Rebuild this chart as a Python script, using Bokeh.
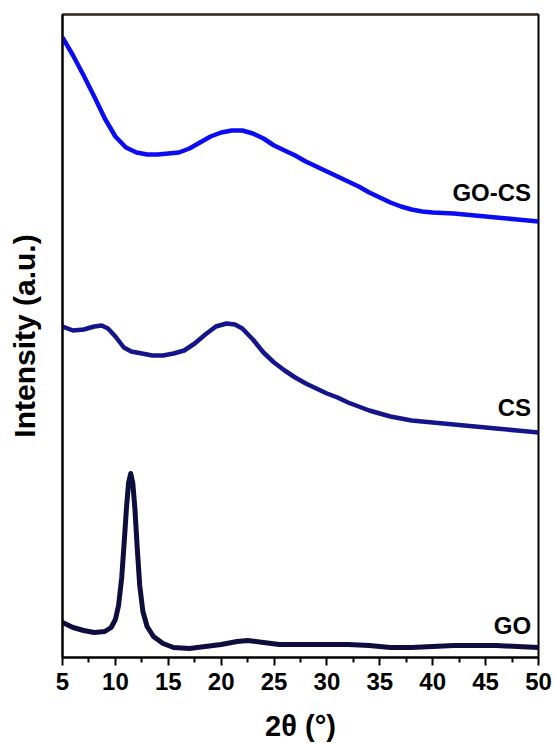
from bokeh.plotting import figure
from bokeh.models import FixedTicker, Label, LinearAxis, Range1d
from bokeh.embed import file_html
from bokeh.resources import INLINE

# ---- data (2θ in degrees, intensity in arbitrary units) ----
go_cs_theta = [5, 6, 7, 8, 9, 10, 11, 12, 13, 14, 15, 16, 17, 18, 19, 20, 21, 22, 23, 24,
               25, 26, 27, 28, 29, 30, 31, 32, 33, 34, 35, 36, 37, 38, 39, 40, 42, 44, 46, 48, 50]
go_cs_int = [620, 602, 582, 561, 539, 521, 510, 505, 503, 503, 504, 505, 509, 515, 521, 525, 527, 527,
             524, 519, 512, 507, 502, 496, 491, 486, 481, 476, 471, 465, 460, 455, 451, 448, 446, 445,
             444, 442, 440, 438, 436]

cs_theta = [5, 6, 7, 8, 8.7, 9.3, 10, 10.8, 11.5, 12.5, 13.5, 14.5, 15.5, 16.5, 17.5, 18.5, 19.5,
            20.5, 21.3, 22, 23, 24, 25, 26, 27, 28, 29, 30, 31, 32, 33, 34, 35, 36, 37, 38, 39, 40,
            42, 44, 46, 48, 50]
cs_int = [331, 327, 328, 331, 332, 329, 321, 310, 306, 304, 302, 302, 304, 307, 314, 323, 331,
          334, 333, 329, 318, 305, 295, 287, 280, 274, 269, 264, 260, 255, 251, 247, 244, 241, 239,
          237, 236, 235, 233, 231, 229, 227, 225]

go_theta = [5, 6, 7, 8, 9, 9.6, 10.0, 10.3, 10.6, 10.85, 11.05, 11.25, 11.45, 11.65, 11.85, 12.05,
            12.3, 12.6, 13.0, 13.6, 14.5, 15.5, 17, 18.5, 20, 21.5, 22.5, 24, 25.5, 27.5, 30, 32,
            34, 36, 38, 40, 42, 44, 46, 48, 50]
go_int = [35, 30, 27, 25, 26, 30, 38, 52, 80, 118, 150, 175, 184, 174, 148, 112,
          72, 46, 31, 21, 14, 10, 9, 11, 13, 16, 17, 15, 13, 13, 13, 13,
          12, 10, 10, 11, 12, 12, 12, 11, 10]

series_names = ["GO-CS", "CS", "GO"]
x_ticks = [5, 10, 15, 20, 25, 30, 35, 40, 45, 50]

FONT = "Liberation Sans"

p = figure(width=555, height=744, output_backend="svg", toolbar_location=None,
           x_range=Range1d(5, 50), y_range=Range1d(0, 643),
           min_border_left=62, min_border_right=17, min_border_top=14, min_border_bottom=87)
p.background_fill_color = "white"
p.border_fill_color = "white"
p.grid.visible = False
p.outline_line_color = "black"
p.outline_line_width = 2

p.line(go_cs_theta, go_cs_int, line_color="#0c0cf2", line_width=4.5, line_join="round")
p.line(cs_theta, cs_int, line_color="#15158a", line_width=4.5, line_join="round")
p.line(go_theta, go_int, line_color="#0e0e3e", line_width=5, line_join="round")

# x axis
xa = p.xaxis[0]
xa.ticker = FixedTicker(ticks=x_ticks, minor_ticks=[7.5 + 5 * i for i in range(9)])
xa.axis_label = "2θ (°)"
xa.axis_label_text_font = FONT
xa.axis_label_text_font_style = "bold"
xa.axis_label_text_font_size = "29px"
xa.axis_label_text_color = "black"
xa.axis_label_standoff = 17
xa.major_label_text_font = FONT
xa.major_label_text_font_style = "bold"
xa.major_label_text_font_size = "24px"
xa.major_label_text_color = "black"
xa.major_label_standoff = 7
xa.axis_line_width = 2
xa.axis_line_color = "black"
xa.major_tick_in = 0
xa.major_tick_out = 8
xa.minor_tick_in = 0
xa.minor_tick_out = 5
xa.major_tick_line_width = 2
xa.minor_tick_line_width = 2

# y axis (no ticks)
ya = p.yaxis[0]
ya.ticker = FixedTicker(ticks=[])
ya.axis_label = "Intensity (a.u.)"
ya.axis_label_text_font = FONT
ya.axis_label_text_font_style = "bold"
ya.axis_label_text_font_size = "30px"
ya.axis_label_text_color = "black"
ya.axis_label_standoff = 22
ya.axis_line_width = 2
ya.axis_line_color = "black"
ya.major_tick_out = 0
ya.major_tick_in = 0
ya.minor_tick_out = 0
ya.minor_tick_in = 0

# brownish top frame line
top = LinearAxis(ticker=FixedTicker(ticks=[]), major_tick_out=0, major_tick_in=0,
                 minor_tick_out=0, minor_tick_in=0, axis_line_color="#3f2a20", axis_line_width=2)
p.add_layout(top, "above")

label_pos = [(49.3, 465), (49.3, 250), (49.3, 32)]
for name, (lx, ly) in zip(series_names, label_pos):
    p.add_layout(Label(x=lx, y=ly, text=name, text_align="right", text_baseline="middle",
                       text_font=FONT, text_font_style="bold", text_font_size="24px",
                       text_color="black"))

open("out.html", "w").write(file_html(p, INLINE))
